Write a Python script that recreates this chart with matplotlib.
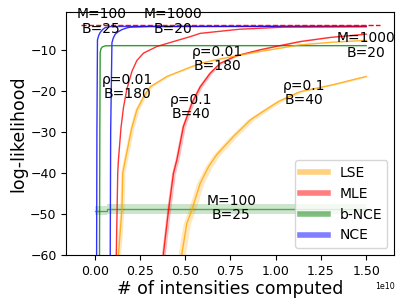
import numpy as np
import matplotlib
matplotlib.use('Agg')
import matplotlib.pyplot as plt
from matplotlib.lines import Line2D

# true log-likelihood (dashed reference)
true_ll = -3.9
total = 1.5e10

# curves: x in units of 1e10 intensities, y = log-likelihood
nce1_x = [0.010, 0.012, 0.015, 0.022, 0.030, 0.045, 0.058, 0.086, 0.2, 1.5]
nce1_y = [-66, -30, -7.6, -6.5, -5.8, -5.0, -4.6, -4.35, -4.3, -4.3]
nce2_x = [0.085, 0.088, 0.095, 0.102, 0.113, 0.13, 0.150, 0.175, 0.196, 0.3, 1.5]
nce2_y = [-66, -30, -8.3, -7.2, -6.2, -5.6, -5.1, -4.7, -4.5, -4.35, -4.3]

bnce1_x = [0.026, 0.028, 0.030, 0.034, 0.042, 0.058, 0.1, 1.5]
bnce1_y = [-66, -30, -10.7, -9.8, -9.3, -9.05, -9.0, -9.0]
bnce2_x = [0.003, 0.067, 0.067, 1.5]
bnce2_y = [-49.2, -49.2, -48.8, -48.8]
bnce2_sd = 1.1

mle1_x = [0.117, 0.119, 0.127, 0.131, 0.145, 0.159, 0.178, 0.206, 0.233, 0.27, 0.344, 0.435, 0.528, 0.583, 0.80, 1.04, 1.5]
mle1_y = [-66, -60, -40, -36.8, -29, -24.0, -19.5, -15.2, -12.6, -10.8, -9.2, -8.0, -6.8, -6.0, -5.0, -4.5, -4.4]
mle2_x = [0.375, 0.38, 0.408, 0.435, 0.454, 0.49, 0.537, 0.583, 0.638, 0.693, 0.78, 0.86, 0.914, 1.0, 1.135, 1.3, 1.5]
mle2_y = [-66, -59.5, -49, -40.1, -36.8, -28.7, -23, -19, -15.7, -13.3, -11.5, -10.6, -10, -9.2, -8, -7, -6.2]
mle2_sd = 0.011

lse1_x = [0.128, 0.131, 0.150, 0.155, 0.168, 0.18, 0.205, 0.233, 0.27, 0.307, 0.399, 0.49, 0.583, 0.675, 0.8, 0.914, 1.135, 1.3, 1.5]
lse1_y = [-66, -60, -49, -40, -37, -34.4, -29, -24.6, -21.5, -19, -16.5, -14.9, -13.3, -12.4, -11.3, -10.4, -8.8, -8.2, -7.7]
lse1_sd = 0.012
lse2_x = [0.475, 0.482, 0.509, 0.537, 0.583, 0.629, 0.675, 0.767, 0.86, 0.931, 1.02, 1.135, 1.318, 1.5]
lse2_y = [-66, -59.5, -52.3, -49, -42.5, -38.5, -35.5, -31.1, -27.1, -25, -22.5, -20.2, -18.5, -16.5]
lse2_sd = 0.02

# labels: (text, x, y)
labels = [
    ('M=100\nB=25', 0.036, -3.05),
    ('M=1000\nB=20', 0.43, -3.05),
    ('M=1000\nB=20', 1.5, -8.9),
    ('\u03c1=0.01\nB=180', 0.677, -12.3),
    ('\u03c1=0.01\nB=180', 0.182, -19.1),
    ('\u03c1=0.1\nB=40', 0.533, -24.0),
    ('\u03c1=0.1\nB=40', 1.157, -20.5),
    ('M=100\nB=25', 0.754, -48.5),
]

E = 1e10
fig = plt.figure(figsize=(4.07, 3.05), dpi=100)
ax = fig.add_axes([0.163, 0.164, 0.806, 0.798])

# NCE
ax.plot(np.array(nce1_x) * E, nce1_y, color='blue', lw=1, alpha=0.8)
ax.plot(np.array(nce2_x) * E, nce2_y, color='blue', lw=1, alpha=0.8)

# b-NCE
ax.plot(np.array(bnce1_x) * E, bnce1_y, color='green', lw=1, alpha=0.8)
bx = np.array(bnce2_x) * E
by = np.array(bnce2_y)
ax.plot(bx, by, color='green', lw=1, alpha=0.6)
ax.fill_between(bx, by - bnce2_sd, by + bnce2_sd, color='green', alpha=0.2, lw=0)

# MLE
ax.plot(np.array(mle1_x) * E, mle1_y, color='red', lw=1, alpha=0.8)
mx = np.array(mle2_x)
ax.plot(mx * E, mle2_y, color='red', lw=1, alpha=0.8)
ax.fill_betweenx(mle2_y, (mx - mle2_sd) * E, (mx + mle2_sd) * E, color='red', alpha=0.25, lw=0)

# LSE
for xs, ys, sd in [(lse1_x, lse1_y, lse1_sd), (lse2_x, lse2_y, lse2_sd)]:
    xs = np.array(xs)
    ax.plot(xs * E, ys, color='orange', lw=1, alpha=0.8)
    ax.fill_betweenx(ys, (xs - sd) * E, (xs + sd) * E, color='orange', alpha=0.25, lw=0)

# true log-likelihood
ax.hlines(true_ll, -0.05 * total, 1.05 * total, colors='red', linestyles='--', lw=1)

for txt, x, y in labels:
    ax.text(x * E, y, txt, ha='center', va='center', fontsize=10, linespacing=1.05)

handles = [
    Line2D([], [], color='orange', lw=4, alpha=0.5),
    Line2D([], [], color='red', lw=4, alpha=0.5),
    Line2D([], [], color='green', lw=4, alpha=0.5),
    Line2D([], [], color='blue', lw=4, alpha=0.5),
]
ax.legend(handles, ['LSE', 'MLE', 'b-NCE', 'NCE'], loc='lower right', fontsize=10)

ax.set_xlim(-0.157 * E, 1.656 * E)
ax.set_ylim(-60, -0.7)
ax.set_yticks([-60, -50, -40, -30, -20, -10])
ax.tick_params(labelsize=9)
ax.xaxis.get_offset_text().set_fontsize(5.7)
ax.set_xlabel('# of intensities computed', fontsize=12.5, labelpad=2)
ax.set_ylabel('log-likelihood', fontsize=12.5, labelpad=2)

fig.savefig('out.png', dpi=100)
